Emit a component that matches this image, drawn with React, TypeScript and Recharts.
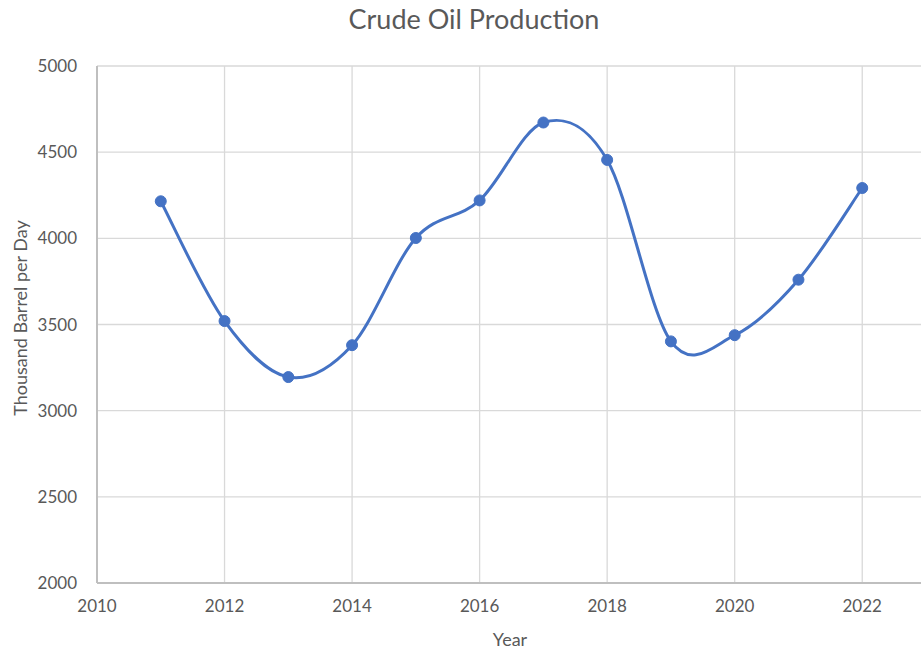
import React from 'react';
import { LineChart, Line, XAxis, YAxis, CartesianGrid } from 'recharts';

const years = [2011, 2012, 2013, 2014, 2015, 2016, 2017, 2018, 2019, 2020, 2021, 2022];
const production = [4215, 3520, 3195, 3380, 4002, 4220, 4672, 4455, 3402, 3438, 3760, 4292];
const xTicks = [2010, 2012, 2014, 2016, 2018, 2020, 2022];
const yTicks = [2000, 2500, 3000, 3500, 4000, 4500, 5000];

const data = years.map((year, i) => ({ year, value: production[i] }));

const FONT = 'Lato, "Open Sans", sans-serif';
const TEXT = '#595959';

// Excel-style smoothed line (Catmull-Rom through the points)
function smoothCurve(context: any) {
  let pts: [number, number][] = [];
  return {
    areaStart() {},
    areaEnd() {},
    lineStart() {
      pts = [];
    },
    point(x: number, y: number) {
      pts.push([x, y]);
    },
    lineEnd() {
      if (!pts.length) return;
      context.moveTo(pts[0][0], pts[0][1]);
      const k = 1 / 6;
      for (let i = 0; i < pts.length - 1; i++) {
        const p0 = pts[i - 1] || pts[i];
        const p1 = pts[i];
        const p2 = pts[i + 1];
        const p3 = pts[i + 2] || p2;
        context.bezierCurveTo(
          p1[0] + (p2[0] - p0[0]) * k,
          p1[1] + (p2[1] - p0[1]) * k,
          p2[0] - (p3[0] - p1[0]) * k,
          p2[1] - (p3[1] - p1[1]) * k,
          p2[0],
          p2[1]
        );
      }
    },
  };
}

export default function App() {
  return (
    <div
      style={{
        position: 'absolute',
        left: 0,
        top: 0,
        width: 921,
        height: 653,
        overflow: 'hidden',
        background: '#fff',
        fontFamily: FONT,
        color: TEXT,
      }}
    >
      <div style={{ position: 'absolute', left: 0, width: 948, top: 2, textAlign: 'center', fontSize: 27 }}>
        Crude Oil Production
      </div>
      <div
        style={{
          position: 'absolute',
          left: 20,
          top: 318,
          transform: 'translate(-50%, -50%) rotate(-90deg)',
          whiteSpace: 'nowrap',
          fontSize: 18,
        }}
      >
        Thousand Barrel per Day
      </div>
      <div
        style={{
          position: 'absolute',
          left: 510,
          top: 639,
          transform: 'translate(-50%, -50%)',
          fontSize: 18,
        }}
      >
        Year
      </div>
      <LineChart width={930} height={653} data={data} margin={{ top: 66, right: 4, bottom: 0, left: 0 }}>
        <CartesianGrid stroke="#d9d9d9" strokeWidth={1.3} />
        <XAxis
          dataKey="year"
          type="number"
          domain={[2010, 2023]}
          ticks={xTicks}
          height={70}
          tickLine={false}
          tickSize={0}
          tickMargin={17}
          axisLine={{ stroke: '#bfbfbf', strokeWidth: 2 }}
          tick={{ fill: TEXT, fontSize: 17, fontFamily: FONT }}
        />
        <YAxis
          type="number"
          domain={[2000, 5000]}
          ticks={yTicks}
          width={97}
          tickLine={false}
          tickSize={0}
          tickMargin={20}
          axisLine={{ stroke: '#bfbfbf', strokeWidth: 2 }}
          tick={{ fill: TEXT, fontSize: 17, fontFamily: FONT }}
        />
        <Line
          dataKey="value"
          type={smoothCurve as any}
          stroke="#4472C4"
          strokeWidth={3}
          dot={{ r: 5.5, fill: '#4472C4', stroke: '#4472C4', strokeWidth: 1 }}
          isAnimationActive={false}
        />
      </LineChart>
    </div>
  );
}
